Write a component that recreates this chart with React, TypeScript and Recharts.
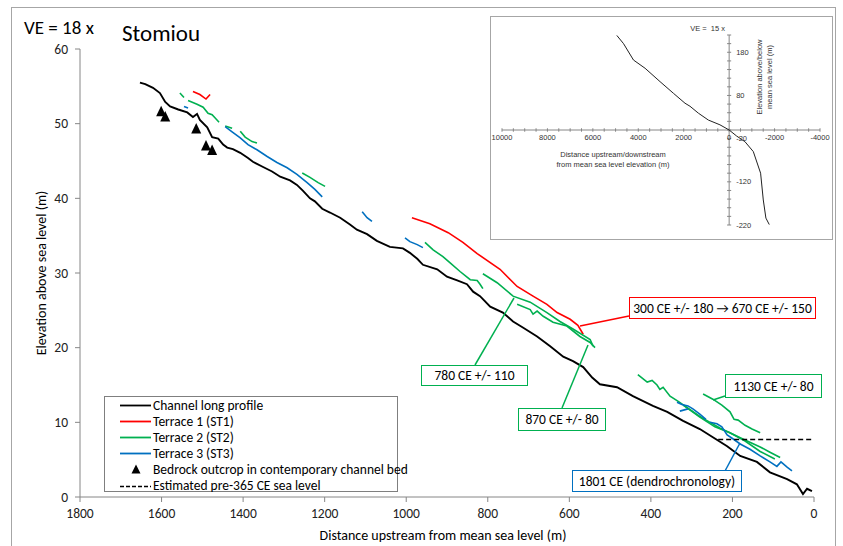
import React from "react";
import { ComposedChart, Line, XAxis, YAxis, ReferenceLine, ReferenceDot } from "recharts";

const FONT = "Carlito, Calibri, Lato, sans-serif";
const ARIAL = "'Liberation Sans', Arial, sans-serif";
const RED = "#ff0000";
const GREEN = "#00b050";
const BLUE = "#0070c0";
const AXIS = "#868686";

type P = { x: number; y: number };
const pts = (a: number[][]): P[] => a.map(([x, y]) => ({ x, y }));

// main chart axes
const xTicks = [0, 200, 400, 600, 800, 1000, 1200, 1400, 1600, 1800];
const yTicks = [0, 10, 20, 30, 40, 50, 60];

// channel long profile (distance upstream m, elevation m)
const channelProfile = pts([
  [1653, 55.5], [1640, 55.3], [1621, 54.8], [1604, 54.1], [1591, 52.9], [1579, 52.3],
  [1559, 51.9], [1537, 51.5], [1523, 50.9], [1513, 51.3], [1506, 50.5], [1488, 49.5],
  [1476, 48.2], [1461, 48.0], [1449, 47.2], [1439, 46.8], [1425, 46.6], [1407, 46.1],
  [1388, 45.4], [1376, 44.9], [1351, 44.2], [1329, 43.6], [1309, 42.9], [1285, 42.4],
  [1268, 41.8], [1253, 41.0], [1236, 40.0], [1224, 39.6], [1206, 38.6], [1187, 38.1],
  [1162, 37.4], [1138, 36.5], [1121, 35.8], [1096, 35.2], [1072, 34.3], [1040, 33.5],
  [1008, 33.3], [991, 32.7], [973, 31.9], [959, 31.1], [924, 30.5], [900, 29.5],
  [875, 29.0], [851, 28.5], [836, 27.5], [819, 26.9], [794, 25.5], [763, 24.7],
  [738, 23.5], [714, 22.7], [679, 21.5], [647, 20.2], [615, 18.8], [591, 18.2],
  [566, 17.4], [544, 16.0], [525, 15.1], [483, 14.7], [444, 13.5], [395, 12.2],
  [360, 11.4], [321, 10.2], [280, 9.1], [248, 8.0], [213, 6.8], [181, 5.5],
  [140, 4.7], [108, 3.3], [66, 2.4], [42, 1.7], [27, 0.4], [17, 1.1], [5, 0.8],
]);

// terrace 1 (ST1)
const terrace1 = [
  pts([[1523, 54.3], [1506, 53.9], [1491, 53.3], [1481, 53.9]]),
  pts([
    [986, 37.4], [942, 36.6], [897, 35.4], [861, 34.1], [826, 32.6], [770, 30.5],
    [728, 28.2], [689, 26.9], [655, 25.8], [630, 24.7], [598, 23.8], [579, 23.0], [566, 21.8],
  ]),
];

// terrace 2 (ST2)
const terrace2 = [
  pts([[1555, 54.1], [1545, 53.5]]),
  pts([[1535, 53.1], [1513, 52.6], [1498, 52.2], [1486, 51.4], [1476, 51.2], [1464, 50.5], [1459, 50.2]]),
  pts([[1444, 49.7], [1427, 49.4]]),
  pts([[1407, 49.0], [1395, 48.2], [1378, 47.6], [1366, 47.4]]),
  pts([[1255, 43.4], [1236, 42.8], [1216, 42.1], [1199, 41.6]]),
  pts([[954, 34.1], [934, 33.1], [910, 32.2], [893, 31.4], [868, 30.2], [843, 29.1], [826, 29.0], [819, 28.5], [812, 27.9]]),
  pts([[812, 29.9], [777, 28.7], [738, 26.9], [696, 26.1], [655, 24.7], [623, 23.5], [591, 22.5], [549, 21.1], [542, 20.2]]),
  pts([[728, 25.8], [696, 25.1], [689, 24.5], [679, 24.9], [664, 24.2], [640, 23.4], [606, 22.9], [574, 21.5], [549, 20.7], [537, 20.0]]),
  pts([
    [432, 16.4], [409, 15.4], [397, 15.6], [385, 15.0], [378, 14.4], [370, 14.7], [353, 13.5],
    [333, 12.8], [309, 11.9], [280, 10.8], [255, 10.0], [230, 9.2], [199, 8.4], [164, 7.5],
    [132, 6.7], [108, 6.0], [83, 5.3],
  ]),
  pts([[272, 13.8], [248, 13.1], [226, 12.3], [206, 11.4], [196, 10.4], [186, 10.3], [169, 9.6], [152, 9.1], [132, 8.6]]),
  pts([[321, 12.3], [280, 10.7], [243, 9.4], [206, 8.6], [169, 7.5], [132, 6.1], [96, 5.1]]),
];

// terrace 3 (ST3)
const terrace3 = [
  pts([[1545, 52.3], [1535, 52.1]]),
  pts([
    [1444, 49.6], [1427, 48.9], [1407, 48.1], [1388, 47.2], [1366, 46.5], [1341, 45.6],
    [1317, 44.8], [1292, 44.1], [1268, 43.2], [1243, 42.1], [1224, 41.2], [1206, 40.2],
  ]),
  pts([[1108, 38.2], [1096, 37.4], [1084, 36.9]]),
  pts([[1003, 34.7], [991, 34.2], [973, 33.8], [959, 33.4]]),
  pts([[336, 12.7], [324, 12.4], [309, 12.2], [297, 11.8], [280, 11.1], [265, 10.4]]),
  pts([[329, 11.5], [309, 11.8]]),
  pts([
    [255, 10.0], [238, 9.8], [226, 9.4], [213, 8.3], [199, 7.8], [181, 7.1], [157, 6.4],
    [132, 5.5], [108, 4.7], [91, 4.1], [81, 4.7], [66, 4.0], [54, 3.5],
  ]),
];

const bedrock = pts([[1601, 51.6], [1591, 50.9], [1515, 49.3], [1491, 47.0], [1476, 46.4]]);
const seaLevel = pts([[235, 7.7], [0, 7.7]]);

// inset: whole profile
const insetProfile = pts([
  [4945, 219], [4650, 200], [4211, 162], [3701, 143], [3042, 112], [2453, 85], [1943, 62],
  [1723, 55], [1354, 39], [914, 23], [404, 12], [0, 0], [-330, -14], [-695, -27],
  [-1064, -50], [-1385, -100], [-1503, -162], [-1618, -204], [-1767, -219],
]);
const insetXTicks = [10000, 8000, 6000, 4000, 2000, 0, -2000, -4000];
const insetYTicks = [180, 80, -20, -120, -220];
const insetXMinor = Array.from({ length: 29 }, (_, i) => -4000 + i * 500);
const insetYMinor = Array.from({ length: 23 }, (_, i) => -220 + i * 20);

const legendRows = [
  { label: "Channel long profile", color: "#000", kind: "line" },
  { label: "Terrace 1 (ST1)", color: RED, kind: "line" },
  { label: "Terrace 2 (ST2)", color: GREEN, kind: "line" },
  { label: "Terrace 3 (ST3)", color: BLUE, kind: "line" },
  { label: "Bedrock outcrop in contemporary channel bed", color: "#000", kind: "tri" },
  { label: "Estimated pre-365 CE sea level", color: "#000", kind: "dash" },
];

const boxes = [
  { text: "300 CE +/- 180 \u2192 670 CE +/- 150", color: RED, left: 629, top: 297, w: 187, h: 22, lead: [629, 316, 580, 326] },
  { text: "780 CE +/- 110", color: GREEN, left: 421, top: 365, w: 107, h: 21, lead: [475, 365, 514, 298] },
  { text: "870 CE +/- 80", color: GREEN, left: 518, top: 408, w: 88, h: 23, lead: [562, 408, 588, 345] },
  { text: "1130 CE +/- 80", color: GREEN, left: 725, top: 374, w: 97, h: 24, lead: [725, 396, 713, 400] },
  { text: "1801 CE (dendrochronology)", color: BLUE, left: 572, top: 470, w: 170, h: 22, lead: [725, 471, 740, 443] },
];

const Triangle = (p: any) => (
  <path
    key={`tri-${p.index}`}
    d={`M${p.cx},${p.cy - 6} L${p.cx + 5},${p.cy + 4.5} L${p.cx - 5},${p.cy + 4.5} Z`}
    fill="#000"
  />
);

function seg(data: P[], color: string, key: string, width = 1.6) {
  return (
    <Line
      key={key}
      data={data}
      dataKey="y"
      stroke={color}
      strokeWidth={width}
      dot={false}
      activeDot={false}
      isAnimationActive={false}
    />
  );
}

function Inset() {
  const lbl = { fontSize: 7.5, fill: "#333", fontFamily: ARIAL };
  return (
    <div style={{ position: "absolute", left: 490, top: 16, width: 343, height: 224, border: "1px solid #a6a6a6", boxSizing: "border-box", background: "#fff" }}>
      <ComposedChart width={341} height={222} margin={{ top: 18, right: 12, bottom: 14, left: 11 }}>
        <XAxis hide type="number" dataKey="x" domain={[-4000, 10000]} reversed allowDataOverflow />
        <YAxis hide type="number" domain={[-220, 220]} allowDataOverflow />
        <ReferenceLine y={0} stroke={AXIS} ifOverflow="visible" />
        <ReferenceLine x={0} stroke={AXIS} ifOverflow="visible" />
        {insetXMinor.map((t) => (
          <ReferenceLine key={`xm${t}`} segment={[{ x: t, y: -4 }, { x: t, y: 4 }]} stroke={AXIS} ifOverflow="visible" />
        ))}
        {insetYMinor.map((t) => (
          <ReferenceLine key={`ym${t}`} segment={[{ x: 90, y: t }, { x: -90, y: t }]} stroke={AXIS} ifOverflow="visible" />
        ))}
        {insetXTicks.map((t) => (
          <ReferenceDot key={`xl${t}`} x={t} y={0} r={0} fill="none" stroke="none" ifOverflow="visible"
            label={{ value: String(t), position: "bottom", offset: 5, ...lbl }} />
        ))}
        {insetYTicks.map((t) => (
          <ReferenceDot key={`yl${t}`} x={0} y={t} r={0} fill="none" stroke="none" ifOverflow="visible"
            label={{ value: String(t), position: "right", offset: 7, ...lbl }} />
        ))}
        <Line data={insetProfile} dataKey="y" stroke="#222" strokeWidth={1} dot={false} activeDot={false} isAnimationActive={false} />
      </ComposedChart>
      <div style={{ position: "absolute", left: 180, top: 7, width: 54, textAlign: "right", fontFamily: ARIAL, fontSize: 7.5, color: "#333" }}>VE =&nbsp; 15 x</div>
      <div style={{ position: "absolute", left: 274 - 50, top: 60 - 10, width: 100, height: 20, transform: "rotate(-90deg)", textAlign: "center", fontFamily: ARIAL, fontSize: 7.5, lineHeight: "9.5px", color: "#333" }}>
        Elevation above/below<br />mean sea level (m)
      </div>
      <div style={{ position: "absolute", left: 62, top: 133, width: 120, textAlign: "center", fontFamily: ARIAL, fontSize: 7.5, lineHeight: "9.5px", color: "#333" }}>
        Distance upstream/downstream<br />from mean sea level elevation (m)
      </div>
    </div>
  );
}

export default function App() {
  return (
    <div style={{ position: "absolute", left: 0, top: 0, width: 843, height: 546, overflow: "hidden", background: "#fff", fontFamily: FONT }}>
      <div style={{ position: "absolute", left: 11, top: 7, width: 825, height: 600, border: "1px solid #a6a6a6", boxSizing: "border-box" }} />
      <ComposedChart width={843} height={546} margin={{ top: 49, right: 29, bottom: 19, left: 30 }}>
        <XAxis
          type="number" dataKey="x" domain={[0, 1800]} reversed ticks={xTicks} allowDataOverflow
          height={30} tickSize={5} tickMargin={6} stroke={AXIS}
          tick={{ fill: "#222", fontSize: 13.5, fontFamily: FONT }}
        />
        <YAxis
          type="number" domain={[0, 60]} ticks={yTicks} allowDataOverflow
          width={50} tickSize={5} tickMargin={7} stroke={AXIS}
          tick={{ fill: "#222", fontSize: 13.5, fontFamily: FONT }}
        />
        {seg(channelProfile, "#000", "profile", 1.9)}
        {terrace1.map((d, i) => seg(d, RED, `t1-${i}`))}
        {terrace2.map((d, i) => seg(d, GREEN, `t2-${i}`))}
        {terrace3.map((d, i) => seg(d, BLUE, `t3-${i}`))}
        <Line data={seaLevel} dataKey="y" stroke="#000" strokeWidth={1.5} strokeDasharray="5 3" dot={false} activeDot={false} isAnimationActive={false} />
        <Line data={bedrock} dataKey="y" stroke="none" dot={Triangle} activeDot={false} isAnimationActive={false} />
      </ComposedChart>

      <div style={{ position: "absolute", left: 24, top: 16, fontSize: 19, lineHeight: "24px" }}>VE = 18 x</div>
      <div style={{ position: "absolute", left: 122, top: 19, fontSize: 23, lineHeight: "28px" }}>Stomiou</div>
      <div style={{ position: "absolute", left: 42 - 120, top: 273 - 10, width: 240, height: 20, transform: "rotate(-90deg)", textAlign: "center", fontSize: 14, lineHeight: "20px" }}>
        Elevation above sea level (m)
      </div>
      <div style={{ position: "absolute", left: 243, top: 526, width: 400, textAlign: "center", fontSize: 14, lineHeight: "20px" }}>
        Distance upstream from mean sea level (m)
      </div>

      <Inset />

      <svg width={843} height={546} style={{ position: "absolute", left: 0, top: 0, pointerEvents: "none" }}>
        {boxes.map((b) => (
          <line key={b.text} x1={b.lead[0]} y1={b.lead[1]} x2={b.lead[2]} y2={b.lead[3]} stroke={b.color} strokeWidth={1.5} />
        ))}
      </svg>
      {boxes.map((b) => (
        <div key={b.text} style={{ position: "absolute", left: b.left, top: b.top, width: b.w, height: b.h, border: `1.5px solid ${b.color}`, boxSizing: "border-box", background: "#fff", display: "flex", alignItems: "center", justifyContent: "center", fontSize: 13.5, whiteSpace: "nowrap" }}>
          {b.text}
        </div>
      ))}

      <div style={{ position: "absolute", left: 104, top: 396, width: 294, height: 96, border: "1px solid #7f7f7f", boxSizing: "border-box", background: "#fff" }}>
        {legendRows.map((r, i) => (
          <div key={r.label} style={{ position: "absolute", left: 0, top: 0 + i * 16.1, height: 16, width: 292, display: "flex", alignItems: "center", fontSize: 13.5, whiteSpace: "nowrap" }}>
            <svg width={48} height={16} style={{ flex: "none" }}>
              {r.kind === "line" && <line x1={15} x2={46} y1={8.5} y2={8.5} stroke={r.color} strokeWidth={1.8} />}
              {r.kind === "dash" && <line x1={15} x2={46} y1={8.5} y2={8.5} stroke={r.color} strokeWidth={1.5} strokeDasharray="4 2" />}
              {r.kind === "tri" && <path d="M31,3.5 L35.5,12.5 L26.5,12.5 Z" fill="#000" />}
            </svg>
            <span>{r.label}</span>
          </div>
        ))}
      </div>
    </div>
  );
}
